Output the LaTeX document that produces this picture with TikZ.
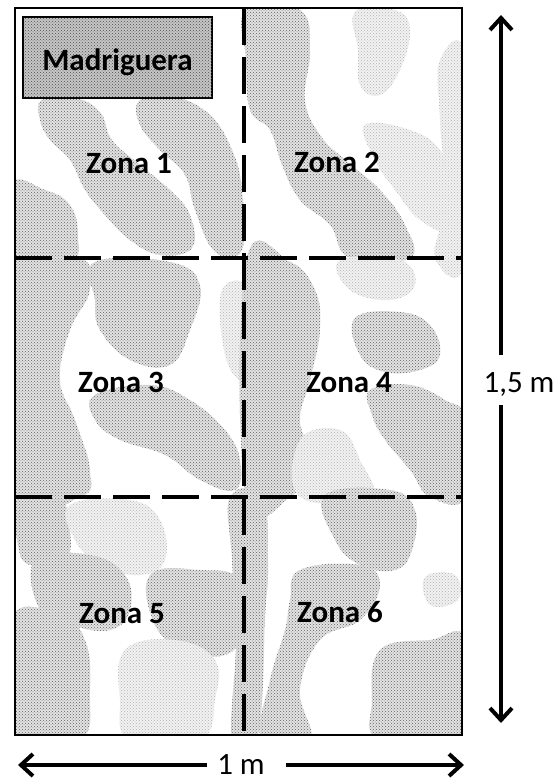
\documentclass[tikz,border=0pt]{standalone}
\usepackage{fontspec}
\setmainfont{Carlito}
\usetikzlibrary{arrows.meta,patterns}
\begin{document}
\begin{tikzpicture}[x=1pt,y=-1pt,
  tex/.style={fill=gray!22, postaction={pattern=crosshatch dots, pattern color=gray!75!black}},
  texlight/.style={fill=gray!10, postaction={pattern=crosshatch dots, pattern color=gray!60}},
  texdense/.style={fill=gray!45, postaction={pattern=crosshatch dots, pattern color=gray!60!black}},
  zone/.style={font=\fontsize{31}{36}\selectfont\bfseries, inner sep=1pt},
  dimlabel/.style={font=\fontsize{31}{36}\selectfont, inner sep=0pt},
  divider/.style={line width=4pt, dash pattern=on 37pt off 12pt},
  dimarrow/.style={line width=4pt, -{Straight Barb[length=12pt,width=22pt]}},
  blob/.style={smooth cycle, tension=0.7}
]
\useasboundingbox (0,0) rectangle (558,782);

% ---------- speckled ground ----------
\begin{scope}
\clip (15,8) rectangle (462,735);
% cell 1
\fill[tex] plot[blob] coordinates {(42,100) (75,98) (100,112) (112,140) (140,165) (170,190) (190,215) (192,248) (160,255) (130,240) (105,215) (85,190) (70,160) (50,140) (40,120)};
\fill[tex] plot[blob] coordinates {(140,100) (175,97) (210,115) (232,150) (242,190) (242,250) (215,252) (195,210) (185,175) (160,150) (140,125)};
\fill[tex] plot[blob] coordinates {(10,185) (45,190) (70,205) (78,235) (70,262) (10,262)};
% cell 2
\fill[tex] plot[blob] coordinates {(246,10) (300,10) (310,50) (305,100) (320,135) (345,160) (380,190) (405,225) (410,258) (350,258) (330,225) (300,200) (282,165) (270,130) (250,110) (246,60)};
\fill[texlight] plot[blob] coordinates {(355,12) (395,10) (410,30) (400,70) (380,95) (360,85) (358,50)};
\fill[texlight] plot[blob] coordinates {(365,125) (410,130) (440,150) (455,190) (450,230) (420,220) (395,190) (375,160)};
\fill[texlight] plot[blob] coordinates {(440,60) (466,60) (466,258) (435,258) (445,200) (440,120)};
% cell 3
\fill[tex] plot[blob] coordinates {(10,258) (80,258) (90,290) (70,330) (60,380) (75,420) (90,470) (80,497) (10,497)};
\fill[tex] plot[blob] coordinates {(95,262) (170,262) (200,285) (190,330) (170,365) (130,360) (100,330) (95,300)};
\fill[tex] plot[blob] coordinates {(95,395) (150,385) (190,400) (225,430) (240,460) (235,490) (200,480) (165,455) (120,440) (95,420)};
\fill[texlight] plot[blob] coordinates {(222,290) (250,290) (256,360) (240,380) (224,350)};
% cell 4
\fill[tex] plot[blob] coordinates {(246,262) (290,262) (315,290) (320,330) (310,380) (300,420) (310,460) (290,497) (246,497)};
\fill[tex] plot[blob] coordinates {(355,318) (400,312) (430,325) (440,355) (420,370) (385,372) (360,355)};
\fill[tex] plot[blob] coordinates {(370,390) (410,385) (445,400) (466,420) (466,497) (430,497) (410,470) (385,440) (372,415)};
\fill[texlight] plot[blob] coordinates {(300,440) (340,430) (360,460) (370,497) (300,497)};
\fill[texlight] plot[blob] coordinates {(340,260) (400,260) (415,285) (390,300) (350,290)};
% cell 5
\fill[tex] plot[blob] coordinates {(18,500) (60,500) (70,530) (65,560) (30,565) (18,545)};
\fill[texlight] plot[blob] coordinates {(70,505) (130,500) (160,520) (165,560) (140,575) (100,565) (75,540)};
\fill[tex] plot[blob] coordinates {(35,560) (90,555) (125,575) (130,610) (110,630) (70,625) (40,610)};
\fill[tex] plot[blob] coordinates {(10,620) (60,615) (85,640) (90,690) (80,740) (10,740)};
\fill[tex] plot[blob] coordinates {(150,575) (200,570) (240,580) (243,630) (225,655) (185,650) (155,625)};
\fill[texlight] plot[blob] coordinates {(125,650) (175,640) (215,660) (215,700) (200,740) (130,740) (120,700)};
% cell 6
\fill[tex] plot[blob] coordinates {(230,497) (262,497) (268,560) (265,620) (262,700) (255,740) (232,740) (236,640) (232,560)};
\fill[tex] plot[blob] coordinates {(325,495) (390,490) (415,510) (412,550) (395,570) (360,565) (335,540)};
\fill[tex] plot[blob] coordinates {(300,570) (360,565) (380,585) (360,620) (320,640) (300,690) (310,740) (262,740) (270,680) (285,630) (290,600)};
\fill[tex] plot[blob] coordinates {(380,650) (430,640) (466,640) (466,740) (380,740) (372,700)};
\fill[texlight] plot[blob] coordinates {(425,577) (455,575) (458,600) (430,605)};
\end{scope}

% ---------- dividers and frame ----------
\draw[divider] (244,8) -- (244,735);
\draw[divider] (15,258) -- (462,258);
\draw[divider] (15,497) -- (462,497);
\draw[line width=2.5pt] (15,8) rectangle (462,735);

% ---------- burrow ----------
\node[draw, line width=2pt, texdense, minimum width=189pt, minimum height=81pt, inner sep=0pt] (madbox) at (117.5,57.5) {};
\node[zone, anchor=base] (mad) at (117.5,70) {Madriguera};

% ---------- zone labels ----------
\node[zone, anchor=base] (z1) at (129,173) {Zona 1};
\node[zone, anchor=base] (z2) at (337,172) {Zona 2};
\node[zone, anchor=base] (z3) at (121,392) {Zona 3};
\node[zone, anchor=base] (z4) at (349,392) {Zona 4};
\node[zone, anchor=base] (z5) at (122,623) {Zona 5};
\node[zone, anchor=base] (z6) at (340,622) {Zona 6};

% ---------- dimensions ----------
\node[dimlabel, anchor=base] (lv) at (519,392) {1,5 m};
\coordinate (vt) at (501,15);
\coordinate (vb) at (501,723);
\coordinate (vgt) at (501,355);
\coordinate (vgb) at (501,405);
\draw[dimarrow] (vgt) -- (vt);
\draw[dimarrow] (vgb) -- (vb);

\node[dimlabel, anchor=base] (lh) at (241,774) {1 m};
\coordinate (hl) at (18,765);
\coordinate (hr) at (464,765);
\coordinate (hgl) at (207,765);
\coordinate (hgr) at (286,765);
\draw[dimarrow] (hgl) -- (hl);
\draw[dimarrow] (hgr) -- (hr);
\end{tikzpicture}
\end{document}
